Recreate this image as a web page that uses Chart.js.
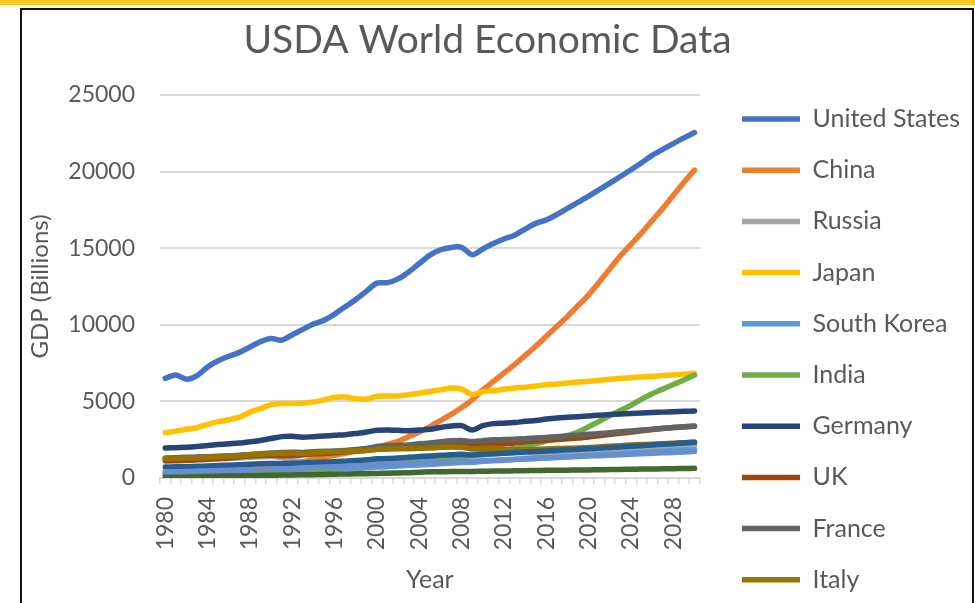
<!DOCTYPE html>
<html>
<head>
<meta charset="utf-8">
<title>USDA World Economic Data</title>
<script src="https://cdn.jsdelivr.net/npm/chart.js@4.4.1/dist/chart.umd.min.js"></script>
<style>
  html, body { margin: 0; padding: 0; background: #fff; }
  #wrap { position: relative; width: 975px; height: 603px; overflow: hidden; }
  #growthChart { position: absolute; left: 0; top: 0; }
  .frame { position: absolute; pointer-events: none; }
  #gold { left: 0; top: 0; width: 975px; height: 5px; background: #FFC526; }
  #box { left: 20px; top: 8px; width: 950px; height: 600px; border: 2px solid #111; border-bottom: none; }
</style>
</head>
<body>
<div id="wrap">
  <canvas id="growthChart" width="975" height="603"></canvas>
  <div class="frame" id="gold"></div>
  <div class="frame" id="box"></div>
</div>
<script>
// chart data — GDP in billions
const $ = id => document.getElementById(id);

const years = [
  '1980','1981','1982','1983','1984','1985','1986','1987','1988','1989',
  '1990','1991','1992','1993','1994','1995','1996','1997','1998','1999',
  '2000','2001','2002','2003','2004','2005','2006','2007','2008','2009',
  '2010','2011','2012','2013','2014','2015','2016','2017','2018','2019',
  '2020','2021','2022','2023','2024','2025','2026','2027','2028','2029',
  '2030'
];

const unitedStates = [6500,6720,6450,6680,7250,7650,7950,8200,8550,8900,
  9100,9000,9350,9700,10050,10300,10700,11180,11650,12200,
  12720,12750,13000,13450,14000,14550,14900,15050,15060,14580,
  14950,15300,15600,15850,16250,16620,16850,17200,17600,18000,
  18400,18820,19250,19680,20120,20580,21060,21450,21830,22200,
  22550];
const china = [300,320,350,390,450,510,560,620,690,720,
  750,820,940,1070,1210,1340,1480,1610,1740,1870,
  2020,2190,2390,2700,3000,3350,3750,4150,4600,5100,
  5750,6300,6850,7400,8000,8600,9250,9900,10550,11250,
  11950,12800,13650,14500,15250,16000,16800,17600,18450,19300,
  20100];
const russia = [1100,1120,1150,1180,1210,1240,1280,1310,1350,1380,
  1400,1330,1150,1050,920,880,850,860,820,870,
  950,1000,1050,1120,1200,1280,1370,1480,1560,1440,
  1500,1560,1620,1640,1650,1610,1620,1650,1690,1720,
  1750,1790,1830,1870,1910,1950,1990,2030,2070,2110,
  2150];
const japan = [2960,3060,3180,3290,3500,3680,3800,3970,4300,4530,
  4780,4860,4870,4880,4960,5100,5270,5280,5170,5150,
  5330,5350,5360,5440,5530,5650,5750,5880,5800,5450,
  5630,5700,5790,5870,5930,6000,6080,6140,6200,6260,
  6320,6380,6440,6510,6550,6600,6640,6690,6730,6780,
  6830];
const southKorea = [160,170,185,205,225,240,265,295,330,350,
  380,420,440,470,510,550,590,630,600,670,
  710,740,790,810,850,880,930,980,1010,1020,
  1090,1130,1160,1200,1240,1270,1310,1350,1390,1430,
  1470,1510,1550,1590,1630,1670,1710,1750,1790,1820,
  1860];
const india = [280,300,310,330,350,360,380,400,440,470,
  490,490,520,550,580,620,670,700,750,810,
  840,880,910,980,1050,1120,1200,1290,1370,1480,
  1640,1720,1810,1930,2080,2240,2420,2600,2780,3000,
  3350,3700,4080,4400,4750,5150,5500,5800,6100,6400,
  6720];
const germany = [1960,1980,2000,2050,2120,2180,2230,2280,2360,2450,
  2580,2700,2720,2660,2700,2740,2790,2830,2900,3000,
  3110,3140,3110,3090,3130,3180,3300,3390,3420,3130,
  3420,3550,3580,3620,3700,3760,3850,3920,3960,4000,
  4050,4100,4140,4180,4210,4240,4270,4300,4320,4350,
  4370];
const uk = [1150,1140,1160,1200,1230,1270,1310,1370,1440,1470,
  1480,1460,1470,1510,1560,1600,1640,1700,1760,1810,
  1880,1930,1970,2030,2080,2140,2190,2250,2240,2140,
  2180,2210,2240,2290,2360,2410,2460,2510,2560,2610,
  2680,2760,2840,2920,3000,3080,3160,3230,3290,3340,
  3380];
const france = [1300,1320,1350,1370,1390,1420,1450,1480,1540,1590,
  1640,1660,1680,1670,1710,1740,1760,1800,1860,1920,
  2050,2100,2130,2160,2230,2290,2360,2430,2450,2380,
  2440,2490,2510,2530,2570,2610,2650,2700,2750,2800,
  2850,2900,2960,3020,3070,3130,3180,3240,3290,3340,
  3390];
const italy = [1280,1290,1300,1320,1350,1380,1420,1460,1510,1560,
  1600,1620,1630,1610,1650,1700,1710,1740,1770,1800,
  1870,1900,1910,1910,1940,1960,2000,2030,2000,1890,
  1930,1940,1880,1850,1850,1870,1890,1920,1940,1960,
  1990,2030,2070,2110,2150,2180,2210,2240,2270,2300,
  2330];
const series11 = [720,730,740,760,790,820,840,870,900,930,
  950,950,960,980,1010,1040,1060,1100,1140,1190,
  1250,1270,1310,1350,1400,1440,1480,1520,1540,1500,
  1550,1590,1620,1660,1700,1730,1760,1800,1840,1870,
  1910,1950,1990,2030,2070,2110,2160,2200,2240,2290,
  2330];
const series12 = [120,125,130,135,140,145,150,155,160,170,
  180,190,200,210,220,235,250,260,270,280,
  300,310,330,350,380,400,410,420,430,430,
  440,450,460,470,480,490,500,505,510,520,
  530,540,550,560,570,580,590,600,610,620,
  630];
const series13 = [400,410,420,440,460,480,500,520,540,560,
  580,600,620,650,680,710,740,770,790,820,
  860,890,920,950,980,1010,1040,1070,1100,1090,
  1130,1160,1190,1220,1250,1280,1310,1340,1370,1400,
  1430,1460,1490,1520,1550,1580,1610,1640,1670,1700,
  1740];

const seriesNames = ['United States','China','Russia','Japan','South Korea','India',
  'Germany','UK','France','Italy','Series 11','Series 12','Series 13'];
const seriesValues = [unitedStates, china, russia, japan, southKorea, india,
  germany, uk, france, italy, series11, series12, series13];
const seriesColors = ['#4472C4','#ED7D31','#A5A5A5','#FFC000','#5B9BD5','#70AD47',
  '#264478','#9E480E','#636363','#997300','#255E91','#43682B','#698ED0'];

// only the first ten series fit in the legend box of the original
const LEGEND_COUNT = 10;
const TEXT = '#595959';
const GRID = '#D9D9D9';

Chart.defaults.font.family = 'Lato, "Open Sans", sans-serif';
Chart.defaults.color = TEXT;

function buildDatasets() {
  return seriesNames.map((name, i) => ({
    label: name,
    data: seriesValues[i],
    borderColor: seriesColors[i],
    backgroundColor: seriesColors[i],
    borderWidth: 5.5,
    borderCapStyle: 'round',
    borderJoinStyle: 'round',
    pointRadius: 0,
    pointHoverRadius: 0,
    tension: 0.3,
    fill: false,
    order: -i // later series on top, like the spreadsheet
  }));
}

new Chart($('growthChart').getContext('2d'), {
  type: 'line',
  data: { labels: years, datasets: buildDatasets() },
  options: {
    responsive: false,
    animation: false,
    devicePixelRatio: 1,
    layout: { padding: { left: 9.2, right: 9.2, top: 0, bottom: -18 } },
    plugins: {
      tooltip: { enabled: false },
      title: {
        display: true,
        text: 'USDA World Economic Data',
        color: TEXT,
        font: { size: 39, weight: 'normal', lineHeight: 1.2 },
        padding: { top: 16.6, bottom: 31.6 }
      },
      legend: {
        position: 'right',
        align: 'start',
        maxWidth: 250,
        // blank legend title only pushes the entries down
        title: { display: true, text: ' ', font: { size: 24, lineHeight: 1.2 }, padding: { top: 51.5, bottom: 0 } },
        labels: {
          usePointStyle: true,
          pointStyle: 'line',
          pointStyleWidth: 58,
          padding: 26.2,
          color: TEXT,
          font: { size: 25 },
          filter: item => item.datasetIndex < LEGEND_COUNT,
          sort: (a, b) => a.datasetIndex - b.datasetIndex
        }
      }
    },
    scales: {
      x: {
        offset: true,
        grid: { offset: true, drawOnChartArea: false, drawTicks: true, tickLength: 6, color: GRID, lineWidth: 1.5 },
        border: { display: true, color: GRID, width: 2 },
        ticks: {
          autoSkip: false,
          maxRotation: 90,
          minRotation: 90,
          padding: 13,
          color: TEXT,
          font: { size: 23 },
          callback: (v, i) => (i % 4 === 0 ? years[i] : '')
        },
        title: { display: true, text: 'Year', color: TEXT, font: { size: 25 }, padding: { top: 0, bottom: 26 } },
        afterFit: s => { s.height = 143; }
      },
      y: {
        min: 0,
        max: 25000,
        grid: { color: GRID, lineWidth: 2, drawTicks: false },
        border: { display: false },
        ticks: { stepSize: 5000, padding: 25, color: TEXT, font: { size: 23 }, callback: v => String(v) },
        title: { display: true, text: 'GDP (Billions)', color: TEXT, font: { size: 24 }, padding: { top: 16.4, bottom: 0 } },
        afterFit: s => { s.width = 150.8; }
      },
      // empty spacer between the plot and the legend
      yGap: {
        position: 'right',
        display: true,
        grid: { display: false, drawTicks: false },
        border: { display: false },
        ticks: { display: false },
        afterFit: s => { s.width = 16; }
      }
    }
  }
});
</script>
</body>
</html>
